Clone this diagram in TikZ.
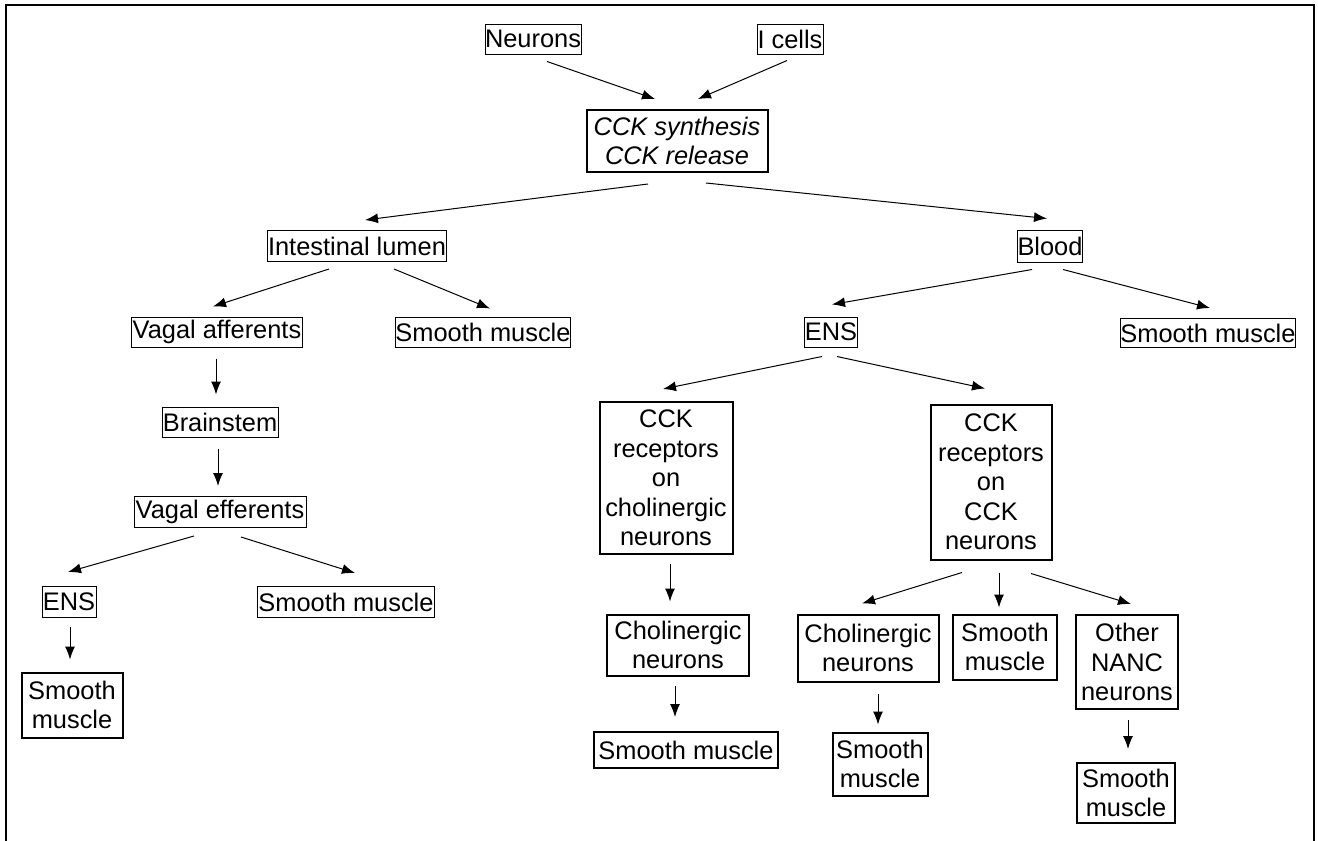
\documentclass[tikz,border=0pt]{standalone}
\usepackage{fontspec}
\setmainfont{Liberation Sans}
\usetikzlibrary{arrows.meta}

\begin{document}
\begin{tikzpicture}[x=0.5pt, y=-0.5pt, >={Latex[length=6.5pt,width=5pt]},
    box/.style={draw, line width=0.5pt, inner sep=0pt, align=center,
        font=\fontsize{12.7}{14.8}\selectfont},
    tbox/.style={box, line width=1pt},
    sz/.style 2 args={minimum width=#1*0.5pt, minimum height=#2*0.5pt},
    arr/.style={->, line width=0.5pt}]

    \useasboundingbox (0,0) rectangle (1318,841);

    % frame
    \draw[line width=1.2pt] (6,841) -- (6,5) -- (1314,5) -- (1314,841);

    % top
    \node[box, sz={96}{30}] (neur) at (533,39) {Neurons};
    \node[box, sz={66}{30}] (icell) at (790,39) {I cells};
    \node[tbox, sz={181}{62}] (cck) at (677,141) {\itshape CCK synthesis\\\itshape CCK release};

    \node[box, sz={179}{31}] (lumen) at (357,246) {Intestinal lumen};
    \node[box, sz={65}{32}] (blood) at (1050,246) {Blood};

    % lumen side
    \node[box, sz={171}{30}] (vaff) at (217,332) {Vagal afferents};
    \node[box, sz={175}{30}] (smL) at (483,332) {Smooth muscle};
    \node[box, sz={116}{30}] (brain) at (220,422) {Brainstem};
    \node[box, sz={172}{31}] (veff) at (220,512) {Vagal efferents};
    \node[box, sz={54}{31}] (ensL) at (69,602) {ENS};
    \node[box, sz={177}{31}] (smE) at (346,602) {Smooth muscle};
    \node[tbox, sz={101}{65}] (smLL) at (72,705) {Smooth\\muscle};

    % blood side
    \node[box, sz={53}{30}] (ensR) at (831,332) {ENS};
    \node[box, sz={173}{29}] (smR) at (1208,333) {Smooth muscle};
    \node[tbox, sz={133}{152}] (rchol) at (666,478) {CCK\\receptors\\on\\cholinergic\\neurons};
    \node[tbox, sz={121}{155}] (rcck) at (991,482) {CCK\\receptors\\on\\CCK\\neurons};
    \node[tbox, sz={142}{61}] (chol1) at (678,645) {Cholinergic\\neurons};
    \node[tbox, sz={184}{36}] (sm1) at (686,750) {Smooth muscle};
    \node[tbox, sz={141}{67}] (chol2) at (868,648) {Cholinergic\\neurons};
    \node[tbox, sz={104}{65}] (sm2) at (1005,647) {Smooth\\muscle};
    \node[tbox, sz={102}{94}] (nanc) at (1127,662) {Other\\NANC\\neurons};
    \node[tbox, sz={95}{63}] (sm3) at (880,764) {Smooth\\muscle};
    \node[tbox, sz={98}{60}] (sm4) at (1126,793) {Smooth\\muscle};

    % arrows
    \draw[arr] ([shift={(14,7)}]neur.south) -- ([shift={(-22,-10)}]cck.north);
    \draw[arr] ([shift={(-3,6)}]icell.south) -- ([shift={(21,-10)}]cck.north);
    \draw[arr] ([shift={(-29,11)}]cck.south) -- ([shift={(8,-10)}]lumen.north);
    \draw[arr] ([shift={(29,10)}]cck.south) -- ([shift={(-3,-11)}]blood.north);

    \draw[arr] ([shift={(-28,7)}]lumen.south) -- ([shift={(-4,-10)}]vaff.north);
    \draw[arr] ([shift={(37,7)}]lumen.south) -- ([shift={(7,-8)}]smL.north);
    \draw[arr] ([shift={(-1,11)}]vaff.south) -- ([shift={(-4,-12)}]brain.north);
    \draw[arr] ([shift={(-2,11)}]brain.south) -- ([shift={(-2,-10)}]veff.north);
    \draw[arr] ([shift={(-26,8)}]veff.south) -- ([shift={(-1,-14)}]ensL.north);
    \draw[arr] ([shift={(21,9)}]veff.south) -- ([shift={(9,-13)}]smE.north);
    \draw[arr] ([shift={(1,9)}]ensL.south) -- ([shift={(-2,-12)}]smLL.north);

    \draw[arr] ([shift={(-18,7)}]blood.south) -- ([shift={(1,-12)}]ensR.north);
    \draw[arr] ([shift={(13,7)}]blood.south) -- ([shift={(2,-10)}]smR.north);
    \draw[arr] ([shift={(-9,9)}]ensR.south) -- ([shift={(-3,-12)}]rchol.north);
    \draw[arr] ([shift={(6,9)}]ensR.south) -- ([shift={(-6,-15)}]rcck.north);
    \draw[arr] ([shift={(4,9)}]rchol.south) -- ([shift={(-8,-12)}]chol1.north);
    \draw[arr] ([shift={(-3,9)}]chol1.south) -- ([shift={(-11,-14)}]sm1.north);
    \draw[arr] ([shift={(-29,12)}]rcck.south) -- ([shift={(-6,-10)}]chol2.north);
    \draw[arr] ([shift={(8,12)}]rcck.south) -- ([shift={(-6,-6)}]sm2.north);
    \draw[arr] ([shift={(40,13)}]rcck.south) -- ([shift={(4,-10)}]nanc.north);
    \draw[arr] ([shift={(10,11)}]chol2.south) -- ([shift={(-2,-7)}]sm3.north);
    \draw[arr] ([shift={(1,10)}]nanc.south) -- ([shift={(2,-13)}]sm4.north);
\end{tikzpicture}
\end{document}
